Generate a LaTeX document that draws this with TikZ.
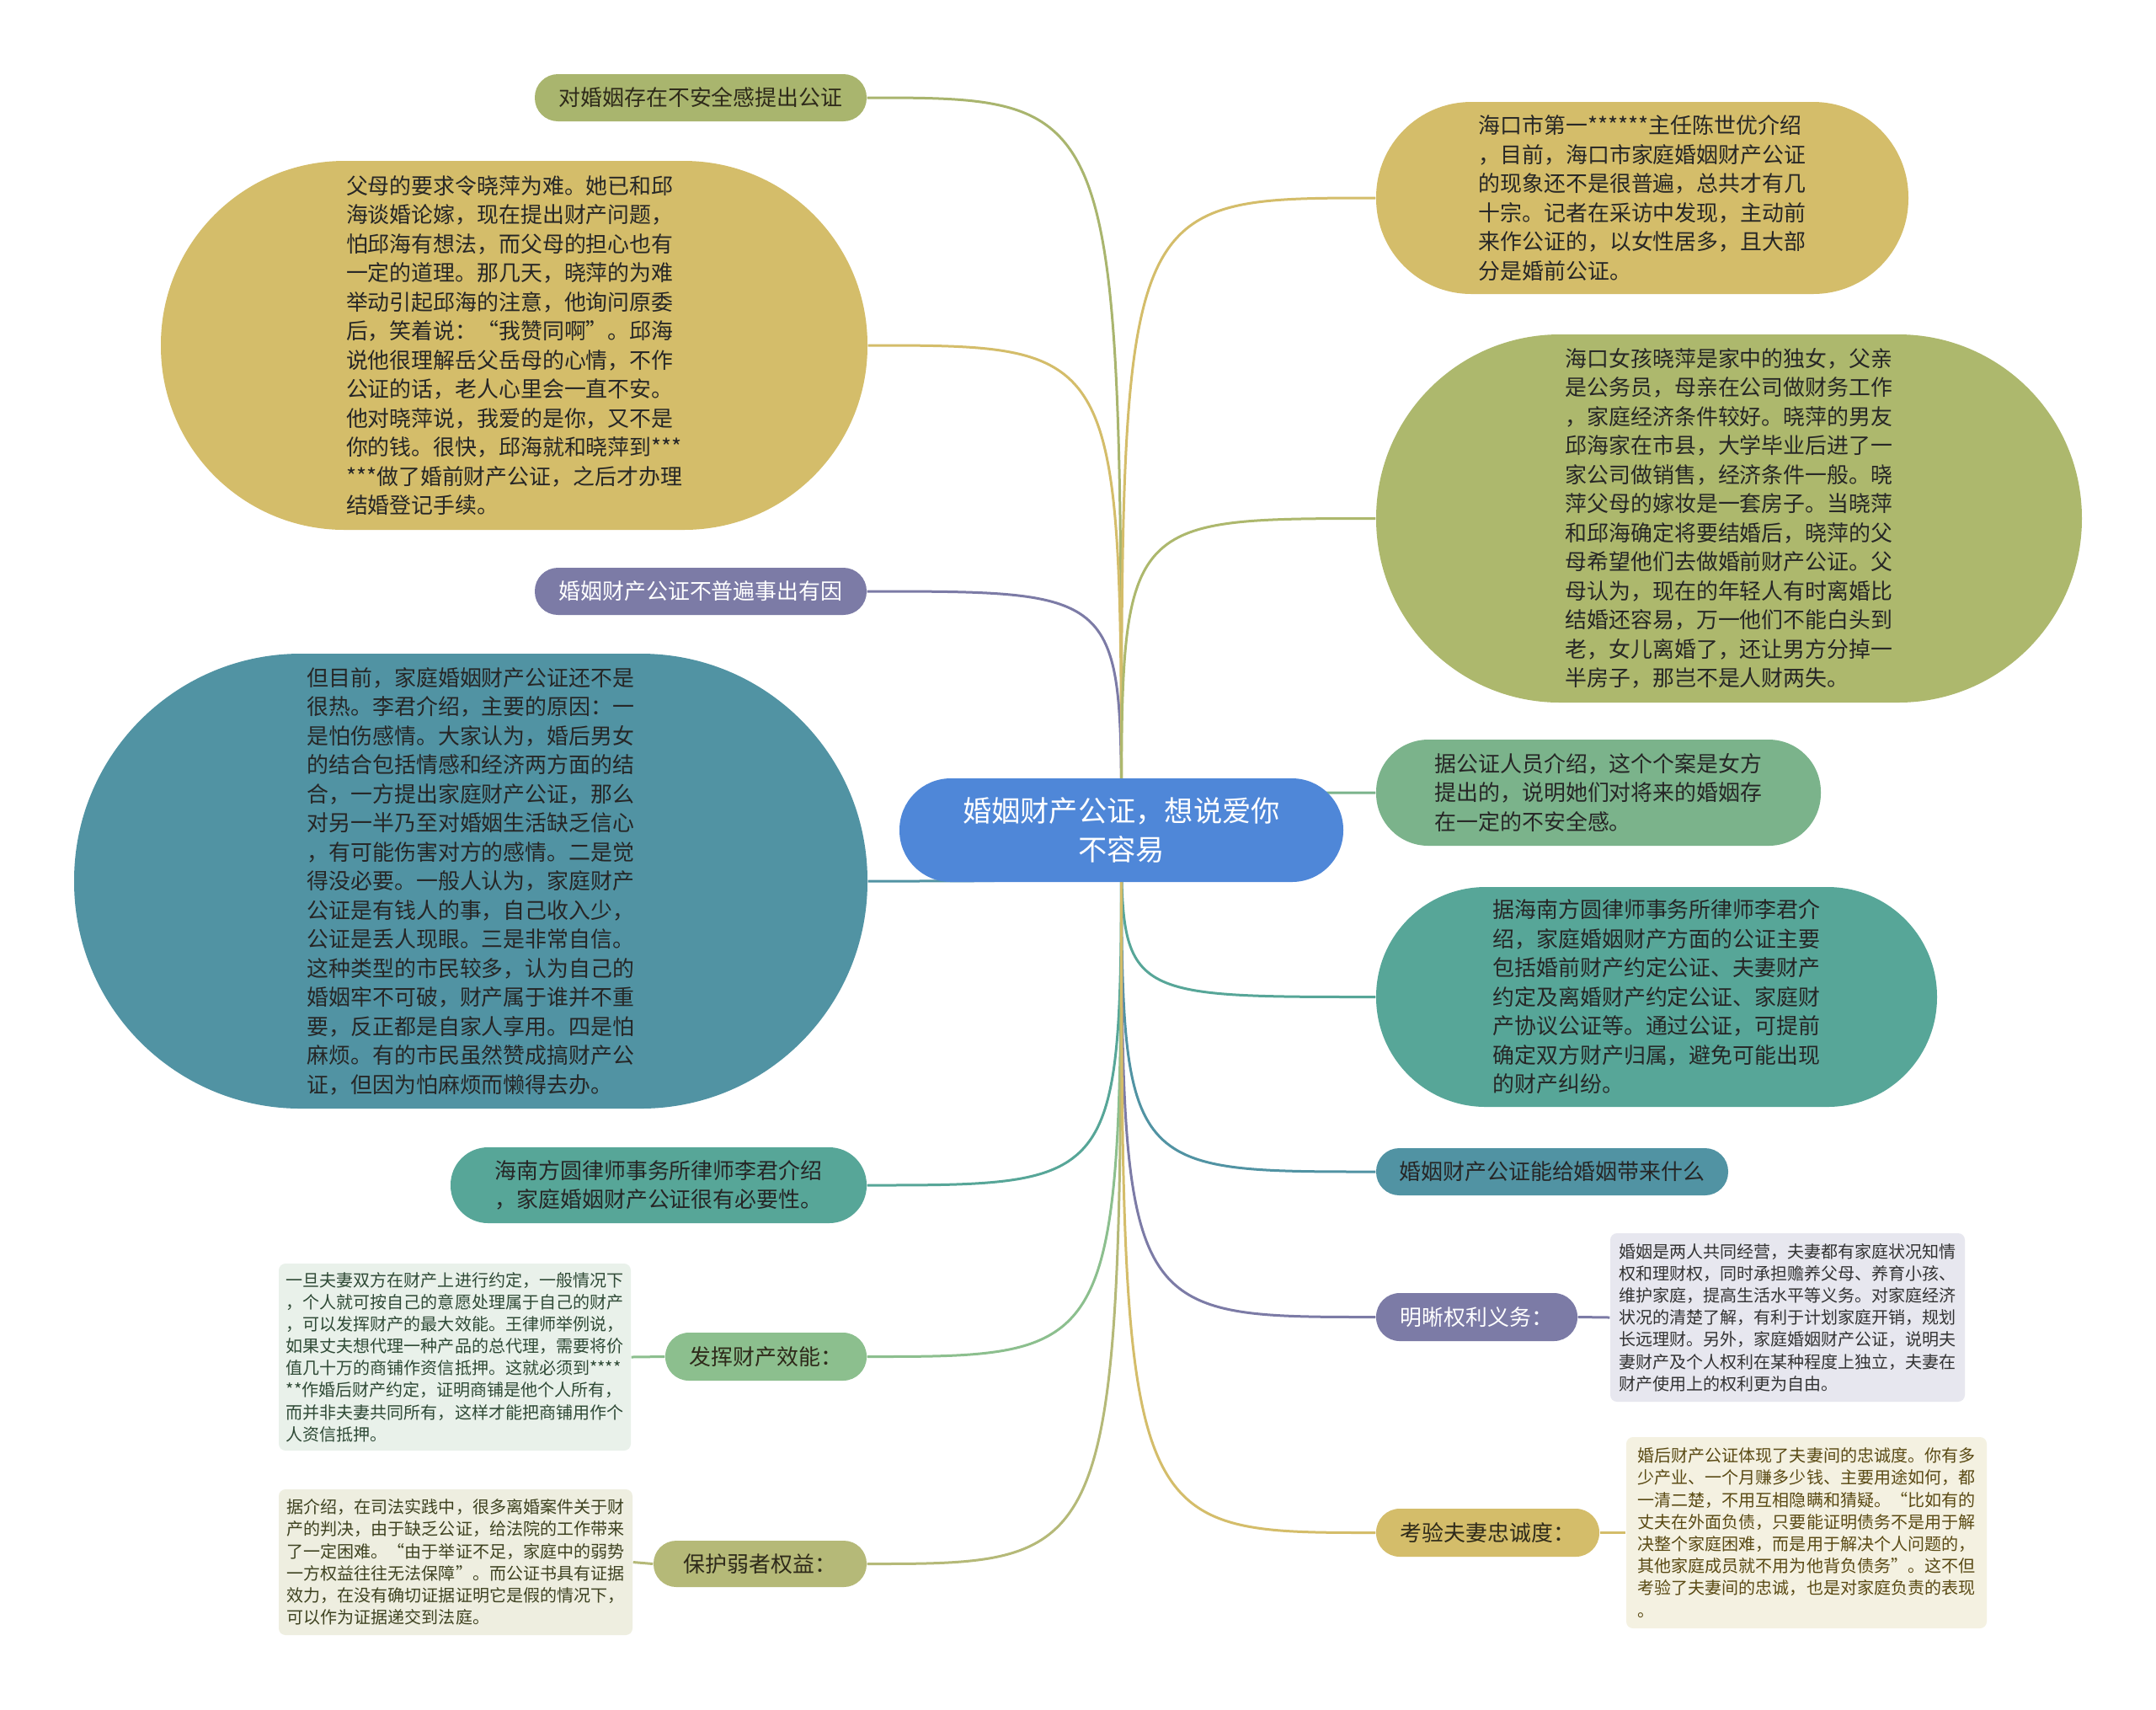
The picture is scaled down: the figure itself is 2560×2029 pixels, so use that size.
\documentclass[tikz,border=0pt]{standalone}
\usepackage{fontspec}
\newfontfamily\cjk{Noto Sans CJK SC}
\usetikzlibrary{backgrounds}
\definecolor{cY}{HTML}{D4BD6A}
\definecolor{cO}{HTML}{ADB86D}
\definecolor{cO1}{HTML}{A9B56E}
\definecolor{cP}{HTML}{7C7BA6}
\definecolor{cTB}{HTML}{5193A3}
\definecolor{cT}{HTML}{57A698}
\definecolor{cG}{HTML}{7BB38B}
\definecolor{cLG}{HTML}{8CBF8E}
\definecolor{cOL}{HTML}{B5B978}
\definecolor{cBlue}{HTML}{4F87D8}
\definecolor{bxG}{HTML}{E9F1EA}
\definecolor{bxO}{HTML}{EEEEE0}
\definecolor{bxP}{HTML}{E7E7EF}
\definecolor{bxY}{HTML}{F4F1E1}
\definecolor{tDark}{HTML}{2E2A1A}
\definecolor{tG}{HTML}{2F4A36}
\definecolor{tO}{HTML}{3E4220}
\definecolor{tY}{HTML}{5A4A14}
\tikzset{
  txt/.style={font=\cjk\fontsize{7.37pt}{9.82pt}\selectfont, align=left, inner sep=0pt, text=tDark},
  sml/.style={font=\cjk\fontsize{5.7pt}{7.45pt}\selectfont, align=left, inner sep=0pt, rounded corners=0.8mm},
  conn/.style={line width=0.3mm, draw=#1},
}
\begin{document}
\begin{tikzpicture}[x=0.1mm,y=-0.1mm]
\useasboundingbox (0,0) rectangle (2560,2029);
% central
\node[txt, fill=cBlue, text=white, align=center, minimum width=52.7mm, minimum height=12.3mm, rounded corners=6.1mm,
  font=\cjk\fontsize{9.75pt}{13pt}\selectfont] (C) at (1331.5,985.5) {婚姻财产公证，想说爱你\\不容易};
% left
\node[txt, fill=cO1, minimum width=39.4mm, minimum height=5.6mm, rounded corners=2.75mm] (L1) at (832,116) {对婚姻存在不安全感提出公证};
\node[txt, fill=cY, text=black!85, minimum width=83.9mm, minimum height=43.8mm, rounded corners=21.8mm] (L2) at (610.5,410) {父母的要求令晓萍为难。她已和邱\\海谈婚论嫁，现在提出财产问题，\\怕邱海有想法，而父母的担心也有\\一定的道理。那几天，晓萍的为难\\举动引起邱海的注意，他询问原委\\后，笑着说：“我赞同啊”。邱海\\说他很理解岳父岳母的心情，不作\\公证的话，老人心里会一直不安。\\他对晓萍说，我爱的是你，又不是\\你的钱。很快，邱海就和晓萍到***\\***做了婚前财产公证，之后才办理\\结婚登记手续。};
\node[txt, fill=cP, text=white, minimum width=39.4mm, minimum height=5.6mm, rounded corners=2.75mm] (L3) at (832,702) {婚姻财产公证不普遍事出有因};
\node[txt, fill=cTB, text=black!85, minimum width=94.2mm, minimum height=54mm, rounded corners=26.9mm] (L4) at (559,1046) {但目前，家庭婚姻财产公证还不是\\很热。李君介绍，主要的原因：一\\是怕伤感情。大家认为，婚后男女\\的结合包括情感和经济两方面的结\\合，一方提出家庭财产公证，那么\\对另一半乃至对婚姻生活缺乏信心\\，有可能伤害对方的感情。二是觉\\得没必要。一般人认为，家庭财产\\公证是有钱人的事，自己收入少，\\公证是丢人现眼。三是非常自信。\\这种类型的市民较多，认为自己的\\婚姻牢不可破，财产属于谁并不重\\要，反正都是自家人享用。四是怕\\麻烦。有的市民虽然赞成搞财产公\\证，但因为怕麻烦而懒得去办。};
\node[txt, fill=cT, text=black!85, minimum width=49.4mm, minimum height=9mm, rounded corners=4.45mm] (L5) at (782,1407) {海南方圆律师事务所律师李君介绍\\，家庭婚姻财产公证很有必要性。};
\node[txt, fill=cLG, minimum width=23.9mm, minimum height=5.7mm, rounded corners=2.8mm] (L6) at (909.5,1610.5) {发挥财产效能：};
\node[sml, fill=bxG, text=tG, minimum width=41.8mm, minimum height=22.2mm] (B6) at (540,1611) {一旦夫妻双方在财产上进行约定，一般情况下\\，个人就可按自己的意愿处理属于自己的财产\\，可以发挥财产的最大效能。王律师举例说，\\如果丈夫想代理一种产品的总代理，需要将价\\值几十万的商铺作资信抵押。这就必须到****\\**作婚后财产约定，证明商铺是他个人所有，\\而并非夫妻共同所有，这样才能把商铺用作个\\人资信抵押。};
\node[txt, fill=cOL, minimum width=25.3mm, minimum height=5.5mm, rounded corners=2.7mm] (L7) at (902.5,1856.5) {保护弱者权益：};
\node[sml, fill=bxO, text=tO, minimum width=42mm, minimum height=17.3mm] (B7) at (541,1854.5) {据介绍，在司法实践中，很多离婚案件关于财\\产的判决，由于缺乏公证，给法院的工作带来\\了一定困难。“由于举证不足，家庭中的弱势\\一方权益往往无法保障”。而公证书具有证据\\效力，在没有确切证据证明它是假的情况下，\\可以作为证据递交到法庭。};
% right
\node[txt, fill=cY, text=black!85, minimum width=63.2mm, minimum height=22.8mm, rounded corners=11.3mm] (R1) at (1950,235) {海口市第一******主任陈世优介绍\\，目前，海口市家庭婚姻财产公证\\的现象还不是很普遍，总共才有几\\十宗。记者在采访中发现，主动前\\来作公证的，以女性居多，且大部\\分是婚前公证。};
\node[txt, fill=cO, text=black!85, minimum width=83.8mm, minimum height=43.7mm, rounded corners=21.8mm] (R2) at (2053,615.5) {海口女孩晓萍是家中的独女，父亲\\是公务员，母亲在公司做财务工作\\，家庭经济条件较好。晓萍的男友\\邱海家在市县，大学毕业后进了一\\家公司做销售，经济条件一般。晓\\萍父母的嫁妆是一套房子。当晓萍\\和邱海确定将要结婚后，晓萍的父\\母希望他们去做婚前财产公证。父\\母认为，现在的年轻人有时离婚比\\结婚还容易，万一他们不能白头到\\老，女儿离婚了，还让男方分掉一\\半房子，那岂不是人财两失。};
\node[txt, fill=cG, text=black!85, minimum width=52.8mm, minimum height=12.6mm, rounded corners=6.2mm] (R3) at (1898,941) {据公证人员介绍，这个个案是女方\\提出的，说明她们对将来的婚姻存\\在一定的不安全感。};
\node[txt, fill=cT, text=black!85, minimum width=66.6mm, minimum height=26.1mm, rounded corners=13mm] (R4) at (1967,1183.5) {据海南方圆律师事务所律师李君介\\绍，家庭婚姻财产方面的公证主要\\包括婚前财产约定公证、夫妻财产\\约定及离婚财产约定公证、家庭财\\产协议公证等。通过公证，可提前\\确定双方财产归属，避免可能出现\\的财产纠纷。};
\node[txt, fill=cTB, text=black!85, minimum width=41.8mm, minimum height=5.6mm, rounded corners=2.75mm] (R5) at (1843,1391) {婚姻财产公证能给婚姻带来什么};
\node[txt, fill=cP, text=white, minimum width=23.9mm, minimum height=5.7mm, rounded corners=2.8mm] (R6) at (1753.5,1563.5) {明晰权利义务：};
\node[sml, fill=bxP, text=black!80, minimum width=42.1mm, minimum height=20mm] (B8) at (2122.5,1564) {婚姻是两人共同经营，夫妻都有家庭状况知情\\权和理财权，同时承担赡养父母、养育小孩、\\维护家庭，提高生活水平等义务。对家庭经济\\状况的清楚了解，有利于计划家庭开销，规划\\长远理财。另外，家庭婚姻财产公证，说明夫\\妻财产及个人权利在某种程度上独立，夫妻在\\财产使用上的权利更为自由。};
\node[txt, fill=cY, minimum width=26.5mm, minimum height=5.7mm, rounded corners=2.8mm] (R7) at (1766.5,1819.5) {考验夫妻忠诚度：};
\node[sml, fill=bxY, text=tY, minimum width=42.8mm, minimum height=22.7mm] (B9) at (2145,1819.5) {婚后财产公证体现了夫妻间的忠诚度。你有多\\少产业、一个月赚多少钱、主要用途如何，都\\一清二楚，不用互相隐瞒和猜疑。“比如有的\\丈夫在外面负债，只要能证明债务不是用于解\\决整个家庭困难，而是用于解决个人问题的，\\其他家庭成员就不用为他背负债务”。这不但\\考验了夫妻间的忠诚，也是对家庭负责的表现\\。};
\begin{scope}[on background layer]
\fill[white] (0,0) rectangle (2560,2029);
\draw[conn=cO1] (C.center) .. controls (C.center |- L1.east) .. (L1.east);
\draw[conn=cY] (C.center) .. controls (C.center |- L2.east) .. (L2.east);
\draw[conn=cP] (C.center) .. controls (C.center |- L3.east) .. (L3.east);
\draw[conn=cTB] (C.center) .. controls (C.center |- L4.east) .. (L4.east);
\draw[conn=cT] (C.center) .. controls (C.center |- L5.east) .. (L5.east);
\draw[conn=cLG] (C.center) .. controls (C.center |- L6.east) .. (L6.east);
\draw[conn=cOL] (C.center) .. controls (C.center |- L7.east) .. (L7.east);
\draw[conn=cY] (C.center) .. controls (C.center |- R1.west) .. (R1.west);
\draw[conn=cO] (C.center) .. controls (C.center |- R2.west) .. (R2.west);
\draw[conn=cG] (C.center) .. controls (C.center |- R3.west) .. (R3.west);
\draw[conn=cT] (C.center) .. controls (C.center |- R4.west) .. (R4.west);
\draw[conn=cTB] (C.center) .. controls (C.center |- R5.west) .. (R5.west);
\draw[conn=cP] (C.center) .. controls (C.center |- R6.west) .. (R6.west);
\draw[conn=cY] (C.center) .. controls (C.center |- R7.west) .. (R7.west);
\draw[conn=cLG] (L6.west) -- (B6.east);
\draw[conn=cOL] (L7.west) -- (B7.east);
\draw[conn=cP] (R6.east) -- (B8.west);
\draw[conn=cY] (R7.east) -- (B9.west);
\end{scope}
\end{tikzpicture}
\end{document}
